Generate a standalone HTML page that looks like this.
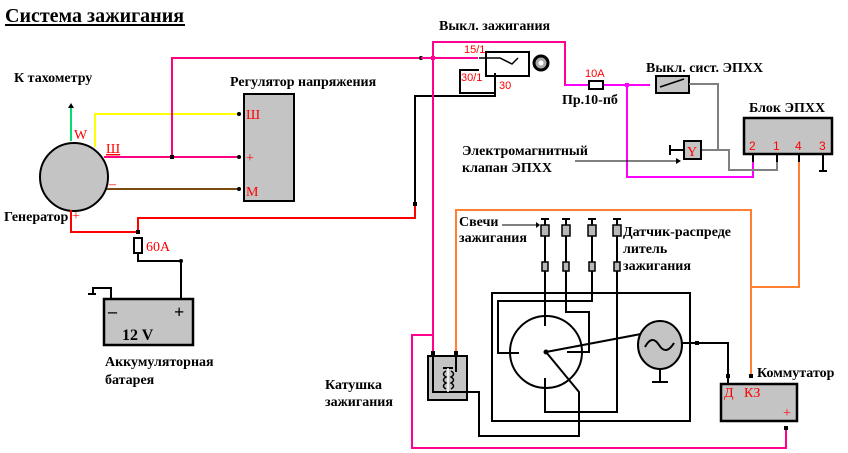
<!DOCTYPE html>
<html><head><meta charset="utf-8"><style>
html,body{margin:0;padding:0;background:#fff;}
svg{display:block;}
text{font-family:"Liberation Serif","DejaVu Serif",serif;font-weight:bold;font-size:14px;fill:#000;}
.r{fill:#f00;font-weight:normal;font-size:14px;}
.rs{fill:#f00;font-family:"Liberation Sans",sans-serif;font-weight:normal;font-size:11px;}
</style></head><body>
<svg width="848" height="453" viewBox="0 0 848 453" xmlns="http://www.w3.org/2000/svg" fill="none" stroke-width="2">
<text x="5" y="22" style="font-size:20px">Система зажигания</text>
<line x1="5" y1="25" x2="185" y2="25" stroke="#000" stroke-width="2"/>
<text x="14" y="82">К тахометру</text>
<text x="230" y="86">Регулятор напряжения</text>
<text x="4" y="221">Генератор</text>
<text x="439" y="30">Выкл. зажигания</text>
<text x="646" y="72">Выкл. сист. ЭПХХ</text>
<text x="749" y="112">Блок ЭПХХ</text>
<text x="562" y="104">Пр.10-пб</text>
<text x="462" y="155">Электромагнитный</text>
<text x="462" y="172">клапан ЭПХХ</text>
<text x="459" y="226">Свечи</text>
<text x="459" y="242">зажигания</text>
<text x="623" y="236">Датчик-распреде</text>
<text x="623" y="253">литель</text>
<text x="623" y="270">зажигания</text>
<text x="105" y="366">Аккумуляторная</text>
<text x="105" y="384">батарея</text>
<text x="325" y="389">Катушка</text>
<text x="325" y="406">зажигания</text>
<text x="757" y="377">Коммутатор</text>

<line x1="71" y1="141" x2="71" y2="106" stroke="#00e070"/>
<path d="M68,108 L71,103 L74,108Z" fill="#000" stroke="none"/>
<polyline points="95,147 95,114 238,114" stroke="#ffff00"/>
<polyline points="104,157 238,157" stroke="#ff0080"/>
<polyline points="172,157 172,58 420,58" stroke="#ff0080"/>
<rect x="170" y="155" width="4" height="4" fill="#000" stroke="none"/>
<line x1="106" y1="189" x2="238" y2="189" stroke="#7a4a10"/>
<circle cx="74" cy="177" r="34" fill="#c4c4c4" stroke="#000"/>
<text class="r" x="74" y="139">W</text>
<text class="r" x="106" y="153" style="text-decoration:underline">Ш</text>
<text class="r" x="109" y="188">–</text>
<text class="r" x="72" y="220">+</text>
<rect x="244" y="94" width="50" height="107" fill="#c4c4c4" stroke="#000"/>
<text class="r" x="246" y="119">Ш</text>
<text class="r" x="246" y="162">+</text>
<text class="r" x="246" y="196">M</text>
<g fill="#000" stroke="none"><circle cx="239" cy="114" r="2"/><circle cx="239" cy="157" r="2"/><circle cx="239" cy="189" r="2"/><circle cx="421" cy="58" r="2"/></g>
<polyline points="71,210 71,232 138,232 138,218 415,218 415,204" stroke="#f00"/>
<polyline points="415,204 415,96 495,96 495,86" stroke="#000"/>
<rect x="413" y="202" width="4" height="4" fill="#000" stroke="none"/>
<rect x="136" y="230" width="4" height="4" fill="#000" stroke="none"/>
<rect x="134" y="238" width="8" height="15" fill="#fff" stroke="#000"/>
<text class="r" x="146" y="251">60A</text>
<polyline points="138,253 138,261 181,261 181,298" stroke="#000"/>
<circle cx="181" cy="261" r="2" fill="#000"/>
<polyline points="111,299 111,288 93,288 93,294" stroke="#000"/>
<line x1="88" y1="294" x2="96" y2="294" stroke="#000"/>
<rect x="104" y="299" width="89" height="46" fill="#c4c4c4" stroke="#000" stroke-width="2.5"/>
<text x="108" y="317" style="font-size:18px">–</text>
<text x="174" y="318" style="font-size:18px">+</text>
<text x="122" y="340" style="font-size:16px">12 V</text>

<polyline points="433,352 433,42 565,42 565,85 590,85" stroke="#ff0090"/>
<line x1="421" y1="58" x2="478" y2="58" stroke="#ff0090"/>
<rect x="431" y="56" width="4" height="4" fill="#ff0090" stroke="none"/>
<text class="rs" x="464" y="53">15/1</text>
<rect x="486" y="52" width="43" height="24" fill="#fff" stroke="#000"/>
<polyline points="479,58 500,58 512,64 518,58" stroke="#000" stroke-width="1.5"/>
<circle cx="541" cy="63" r="7" fill="#aaa" stroke="#000" stroke-width="3"/>
<circle cx="541" cy="63" r="2.5" fill="#fff" stroke="none"/>
<polyline points="479,70 460,70 460,93 495,93 495,73" stroke="#000"/>
<text class="rs" x="461" y="81">30/1</text>
<text class="rs" x="499" y="89">30</text>
<line x1="565" y1="85" x2="650" y2="85" stroke="#ff00ff"/>
<rect x="589" y="81" width="14" height="8" fill="#fff" stroke="#000"/>
<text class="rs" x="585" y="77">10A</text>
<rect x="625" y="83" width="4" height="4" fill="#ff00ff" stroke="none"/>
<polyline points="627,85 627,177 753,177 753,162" stroke="#ff00ff"/>
<rect x="656" y="76" width="33" height="17" fill="#c4c4c4" stroke="#000"/>
<line x1="660" y1="87" x2="684" y2="79" stroke="#000" stroke-width="1.5"/>
<polyline points="689,84 718,84 718,150 729,150 729,170 777,170 777,162" stroke="#808080"/>
<line x1="701" y1="150" x2="718" y2="150" stroke="#808080"/>
<rect x="684" y="141" width="17" height="18" fill="#c4c4c4" stroke="#000"/>
<text class="r" x="687" y="156">Y</text>
<polyline points="684,150 670,150" stroke="#000"/>
<line x1="670" y1="145" x2="670" y2="155" stroke="#000"/>
<line x1="575" y1="161" x2="676" y2="161" stroke="#000" stroke-width="1"/>
<path d="M676,158 L681,161 L676,164Z" fill="#000" stroke="none"/>
<rect x="744" y="118" width="88" height="36" fill="#c4c4c4" stroke="#000" stroke-width="2.5"/>
<text class="rs" x="749" y="150" style="font-size:12px">2</text>
<text class="rs" x="773" y="150" style="font-size:12px">1</text>
<text class="rs" x="795" y="150" style="font-size:12px">4</text>
<text class="rs" x="819" y="150" style="font-size:12px">3</text>
<g stroke="#000"><line x1="753" y1="155" x2="753" y2="162"/><line x1="777" y1="155" x2="777" y2="162"/><line x1="799" y1="155" x2="799" y2="162"/><line x1="823" y1="155" x2="823" y2="171"/><line x1="819" y1="171" x2="827" y2="171"/></g>
<polyline points="799,162 799,287 751,287" stroke="#ff8030"/>
<polyline points="456,352 456,210 751,210 751,376" stroke="#ff8030"/>

<g stroke="#000">
<line x1="545" y1="218" x2="545" y2="326"/><line x1="566" y1="218" x2="566" y2="293"/><line x1="592" y1="218" x2="592" y2="293"/><line x1="617" y1="218" x2="617" y2="293"/>
<line x1="541" y1="219" x2="549" y2="219"/><line x1="562" y1="219" x2="570" y2="219"/><line x1="588" y1="219" x2="596" y2="219"/><line x1="613" y1="219" x2="621" y2="219"/>
</g>
<g fill="#b8b8b8" stroke="#000" stroke-width="1.5">
<rect x="541" y="225" width="8" height="11"/><rect x="562" y="225" width="8" height="11"/><rect x="588" y="225" width="8" height="11"/><rect x="613" y="225" width="8" height="11"/>
<rect x="542" y="262" width="6" height="9"/><rect x="563" y="262" width="6" height="9"/><rect x="589" y="262" width="6" height="9"/><rect x="614" y="262" width="6" height="9"/>
</g>
<line x1="502" y1="225" x2="536" y2="225" stroke="#000" stroke-width="1"/>
<path d="M536,222 L540,225 L536,228Z" fill="#000" stroke="none"/>
<rect x="492" y="293" width="198" height="128" stroke="#000"/>
<circle cx="546" cy="352" r="36" fill="#fff" stroke="#000"/>
<g stroke="#000">
<line x1="545" y1="293" x2="545" y2="326"/>
<polyline points="592,293 592,301 498,301 498,353 519,353"/>
<polyline points="566,293 566,312 589,312 589,352 567,352"/>
<polyline points="617,293 617,412 545,412 545,378"/>
<line x1="546" y1="352" x2="641" y2="334"/>
<polyline points="546,352 579,392 579,426"/>
<polyline points="470,392 479,392 479,436 579,436 579,426"/>
</g>
<circle cx="546" cy="352" r="2.5" fill="#000"/>
<ellipse cx="660" cy="345" rx="22" ry="24" fill="#c4c4c4" stroke="#000"/>
<path d="M645,347 Q652,334 659,345 Q666,356 674,343" stroke="#000"/>
<polyline points="660,369 660,382" stroke="#000"/>
<line x1="652" y1="382" x2="668" y2="382" stroke="#000"/>
<polyline points="682,343 728,343 728,384" stroke="#000"/>
<rect x="695" y="341" width="4" height="4" fill="#000" stroke="none"/>
<polyline points="786,428 786,448 412,448 412,335 433,335" stroke="#ff0090"/>
<rect x="428" y="356" width="39" height="44" fill="#c4c4c4" stroke="#000"/>
<polyline points="433,352 433,392 470,392" stroke="#000"/>
<polyline points="456,352 456,372" stroke="#000"/>
<line x1="443" y1="368" x2="453" y2="368" stroke="#000"/>
<line x1="448" y1="368" x2="448" y2="392" stroke="#fff" stroke-width="1.5"/>
<path d="M446,371 q-5,3 0,6 q-5,3 0,6 q-5,3 0,6 M451,371 q5,3 0,6 q5,3 0,6 q5,3 0,6" stroke="#000" stroke-width="1.5"/>
<g fill="#000" stroke="none"><rect x="431" y="351" width="4" height="4"/><rect x="454" y="351" width="4" height="4"/><rect x="726" y="374" width="4" height="4"/><rect x="749" y="374" width="4" height="4"/><rect x="784" y="426" width="4" height="4"/></g>
<rect x="721" y="384" width="76" height="37" fill="#c4c4c4" stroke="#000" stroke-width="2.5"/>
<text class="r" x="724" y="397">Д</text>
<text class="r" x="744" y="397">КЗ</text>
<text class="r" x="783" y="417">+</text>
</svg>
</body></html>
